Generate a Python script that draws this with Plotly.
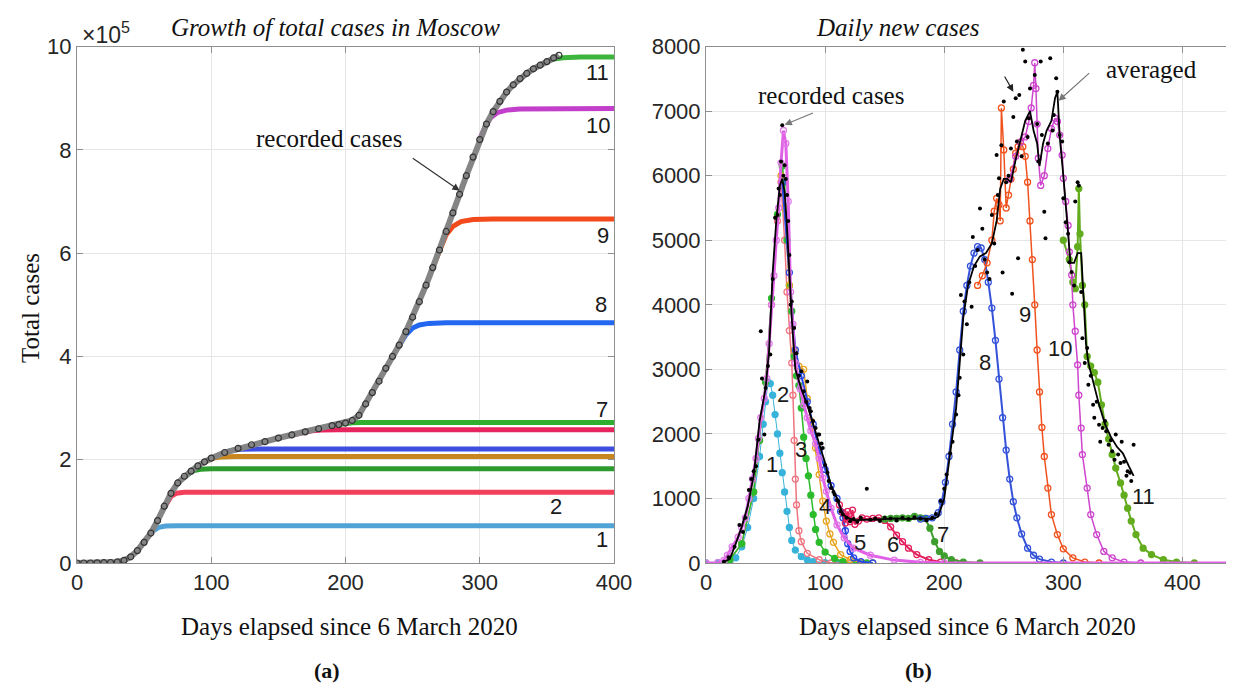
import plotly.graph_objects as go

# ---------------- data ----------------
# (a) cumulative cases, in units of 1e5
rec_day = [0, 5, 10, 15, 20, 25, 30, 35, 40, 45, 50, 55, 60, 65, 70, 75, 80, 85, 90, 95,
           100, 110, 120, 130, 140, 150, 160, 170, 180, 190, 195, 200, 205, 210, 215, 220,
           225, 230, 235, 240, 245, 250, 255, 260, 265, 270, 275, 280, 285, 290, 295, 300,
           305, 310, 315, 320, 325, 330, 335, 340, 345, 350, 355, 359]
rec_total = [0, 0, 0, 0.003, 0.006, 0.01, 0.02, 0.05, 0.12, 0.24, 0.4, 0.58, 0.82, 1.1, 1.35,
             1.55, 1.68, 1.78, 1.88, 1.96, 2.03, 2.14, 2.22, 2.29, 2.35, 2.42, 2.48, 2.54,
             2.6, 2.66, 2.68, 2.71, 2.76, 2.86, 3.08, 3.3, 3.52, 3.77, 4.0, 4.22, 4.48, 4.76,
             5.06, 5.38, 5.72, 6.06, 6.42, 6.78, 7.14, 7.5, 7.86, 8.2, 8.5, 8.74, 8.94, 9.12,
             9.26, 9.38, 9.48, 9.57, 9.64, 9.71, 9.78, 9.83]

tot1_day = [48, 53, 57, 61, 66, 75, 400]
tot1_val = [0.36, 0.51, 0.63, 0.69, 0.715, 0.72, 0.72]
tot2_day = [62, 66, 70, 74, 80, 90, 400]
tot2_val = [0.94, 1.13, 1.29, 1.35, 1.368, 1.372, 1.372]
tot3_day = [78, 83, 87, 92, 100, 400]
tot3_val = [1.64, 1.74, 1.79, 1.815, 1.825, 1.825]
tot4_day = [92, 97, 102, 108, 118, 400]
tot4_val = [1.92, 1.99, 2.035, 2.055, 2.06, 2.06]
tot5_day = [105, 110, 115, 122, 135, 400]
tot5_val = [2.09, 2.14, 2.18, 2.205, 2.21, 2.21]
tot6_day = [160, 165, 170, 175, 182, 195, 400]
tot6_val = [2.48, 2.51, 2.54, 2.56, 2.575, 2.58, 2.58]
tot7_day = [195, 200, 205, 212, 400]
tot7_val = [2.68, 2.705, 2.715, 2.72, 2.72]
tot8_day = [235, 240, 245, 250, 255, 262, 275, 400]
tot8_val = [4.0, 4.22, 4.42, 4.55, 4.61, 4.64, 4.65, 4.65]
tot9_day = [265, 270, 275, 280, 286, 295, 310, 400]
tot9_val = [5.72, 6.06, 6.36, 6.52, 6.61, 6.65, 6.66, 6.66]
tot10_day = [300, 304, 308, 313, 320, 330, 400]
tot10_val = [8.2, 8.45, 8.62, 8.72, 8.77, 8.79, 8.8]
tot11_day = [345, 350, 355, 362, 375, 400]
tot11_val = [9.64, 9.71, 9.76, 9.785, 9.8, 9.8]

# (b) daily new cases
raw_day = [15, 19, 24, 28, 31, 33, 36, 38, 40, 42, 44, 46, 47, 49, 50, 52, 54, 56, 58, 60,
           61, 62, 63, 64, 65, 66, 67, 68, 69, 70, 71, 72, 74, 76, 78, 80, 82, 84, 85, 87,
           88, 90, 92, 94, 95, 97, 98, 100, 102, 103, 105, 107, 108, 110, 111, 113, 115, 118,
           121, 124, 127, 130, 135, 138, 142, 146, 150, 155, 160, 165, 170, 175, 180, 185,
           190, 193, 197, 200, 202, 205, 207, 210, 212, 213, 214, 216, 217, 219, 221, 223,
           224, 226, 228, 230, 232, 234, 236, 238, 240, 242, 244, 245, 246, 248, 249, 250,
           252, 254, 256, 257, 258, 260, 261, 262, 263, 265, 266, 268, 270, 271, 272, 274,
           276, 278, 279, 281, 282, 284, 285, 287, 289, 291, 292, 294, 295, 297, 299, 300,
           302, 304, 305, 307, 309, 310, 312, 313, 315, 316, 318, 320, 321, 323, 325, 326,
           328, 330, 331, 333, 335, 336, 338, 340, 341, 343, 344, 346, 348, 349, 351, 353,
           354, 356, 357, 359]
raw_new = [20, 90, 250, 590, 480, 700, 1130, 1300, 1420, 1500, 1910, 3590, 2860, 1990, 2710,
           3050, 3230, 4400, 5350, 5390, 5800, 5700, 6220, 6780, 6000, 6160, 5950, 5700, 5300,
           4770, 4000, 4050, 3640, 3250, 2900, 2970, 2660, 2500, 2810, 2400, 2350, 2200, 2090,
           1990, 1990, 1850, 1780, 1520, 1400, 1270, 1160, 1100, 1060, 980, 955, 800, 750, 700,
           645, 680, 640, 700, 1150, 670, 690, 650, 700, 690, 660, 700, 680, 710, 690, 660,
           700, 760, 960, 1150, 1370, 1700, 1880, 2300, 2600, 2870, 4150, 3230, 4050, 3700,
           4350, 3970, 5050, 4600, 4850, 5490, 5180, 4700, 4500, 4400, 5390, 4950, 6320, 5700,
           5960, 6470, 4500, 7150, 5900, 6000, 6420, 4170, 6910, 7200, 6530, 4720, 7250, 6300,
           7950, 7770, 6600, 6890, 7350, 8030, 7560, 6800, 6220, 7770, 6630, 5440, 5030, 6500,
           7820, 6700, 6940, 7510, 7300, 6630, 6530, 5650, 5280, 5100, 4660, 4510, 4300, 5600,
           5900, 5850, 4200, 3480, 3100, 3330, 2760, 2900, 2450, 2250, 2500, 2140, 1880, 2090,
           2200, 2040, 1830, 1900, 1730, 1600, 1990, 1680, 1550, 1880, 1570, 1350, 1420, 1400,
           1270, 1830]

avg_day = [15, 20, 25, 30, 35, 40, 45, 50, 53, 56, 59, 62, 64, 66, 68, 70, 72, 75, 78, 80,
           85, 90, 95, 100, 105, 110, 115, 120, 125, 130, 140, 150, 160, 170, 180, 190, 195,
           200, 205, 210, 213, 216, 220, 225, 230, 235, 240, 244, 247, 250, 253, 256, 260,
           264, 268, 272, 275, 278, 280, 283, 286, 290, 293, 295, 297, 300, 303, 306, 309,
           312, 315, 317, 319, 321, 325, 330, 335, 340, 345, 350, 355, 359]
avg_new = [20, 60, 300, 560, 880, 1350, 2200, 2700, 3300, 4500, 5300, 5850, 5950, 5750, 5200,
           4400, 3800, 3000, 2800, 2700, 2450, 2150, 1850, 1550, 1200, 1000, 750, 690, 660,
           670, 670, 680, 690, 680, 690, 680, 720, 1000, 1700, 2400, 3100, 3800, 4300, 4600,
           4750, 4800, 4950, 5300, 5800, 5950, 5950, 5900, 6250, 6550, 6850, 7000, 6700, 6500,
           6150, 6500, 6700, 6850, 7200, 7300, 6600, 6000, 5300, 4650, 4650, 4800, 4800, 4100,
           3400, 3100, 2800, 2450, 2150, 1950, 1800, 1700, 1500, 1350]

new1_day = [0, 10, 20, 25, 30, 35, 40, 45, 48, 50, 52, 54, 56, 58, 60, 62, 64, 66, 68, 70,
            72, 75, 80, 85, 90, 100, 110, 130]
new1_val = [0, 5, 20, 80, 250, 550, 1000, 1650, 2150, 2500, 2800, 2780, 2600, 2300, 2000,
            1700, 1400, 1100, 800, 550, 350, 200, 100, 50, 20, 5, 0, 0]
new2_day = [20, 30, 40, 45, 50, 55, 60, 63, 66, 68, 70, 72, 73, 74, 75, 76, 78, 80, 85, 95,
            105, 120]
new2_val = [50, 300, 1100, 1900, 2800, 4000, 5300, 5900, 5000, 4200, 3600, 3100, 2600, 1900,
            1300, 900, 500, 330, 150, 50, 0, 0]
new3_day = [20, 30, 40, 45, 50, 55, 60, 64, 66, 68, 70, 72, 74, 76, 78, 80, 82, 84, 86, 88,
            90, 92, 95, 100, 108, 115, 125, 135]
new3_val = [50, 300, 1100, 1900, 2800, 4100, 5400, 6150, 5900, 5000, 4300, 3900, 3200, 2900,
            2750, 2400, 1950, 1620, 1350, 1050, 750, 520, 320, 170, 70, 20, 0, 0]
new4_day = [63, 66, 70, 74, 78, 82, 85, 88, 92, 95, 98, 101, 104, 107, 113, 121, 130, 140]
new4_val = [6000, 5500, 4300, 3300, 3050, 3000, 2550, 2200, 1780, 1370, 960, 650, 450, 320,
            130, 50, 10, 0]
new5_day = [64, 70, 75, 80, 85, 90, 95, 100, 105, 110, 113, 115, 117, 119, 121, 124, 130, 140]
new5_val = [5900, 4500, 3300, 2900, 2500, 2150, 1750, 1450, 1200, 1000, 800, 700, 500, 300,
            180, 80, 20, 0]
new6_day = [112, 115, 117, 119, 121, 123, 125, 128, 131, 135, 140, 145, 150, 155, 160, 165,
            170, 177, 187, 197, 210]
new6_val = [900, 780, 620, 800, 640, 820, 600, 650, 700, 680, 690, 700, 660, 560, 430, 330,
            230, 130, 50, 15, 0]
new7_day = [150, 155, 160, 165, 170, 175, 180, 184, 188, 192, 196, 200, 206, 216, 230]
new7_val = [680, 690, 690, 700, 690, 720, 700, 690, 540, 330, 180, 110, 50, 15, 0]
new8_day = [180, 185, 190, 195, 198, 201, 204, 207, 210, 213, 216, 219, 222, 225, 228, 231,
            234, 237, 240, 243, 246, 249, 252, 255, 258, 261, 265, 270, 275, 280, 290, 300]
new8_val = [680, 690, 700, 780, 950, 1250, 1650, 2150, 2650, 3300, 3900, 4300, 4600, 4800,
            4900, 4880, 4700, 4350, 3950, 3450, 2850, 2250, 1750, 1300, 950, 700, 450, 230,
            120, 60, 15, 0]
new9_day = [228, 232, 236, 240, 242, 244, 246, 247, 248, 250, 252, 254, 256, 258, 260, 262,
            264, 266, 268, 270, 272, 274, 276, 278, 280, 282, 284, 287, 290, 295, 300, 308,
            318, 330]
new9_val = [4300, 4450, 4650, 5000, 5450, 5650, 5550, 5300, 7050, 6400, 5500, 5700, 5950,
            6100, 6350, 6450, 6520, 6450, 6300, 5900, 5300, 4700, 4000, 3300, 2650, 2100,
            1650, 1160, 750, 440, 220, 80, 15, 0]
new10_day = [255, 260, 264, 268, 271, 273, 275, 276, 277, 278, 279, 281, 284, 287, 290, 293,
             295, 297, 299, 300, 302, 304, 305, 307, 308, 310, 312, 313, 315, 316, 320, 323,
             328, 334, 341, 351, 365]
new10_val = [5950, 6300, 6520, 6600, 6840, 7050, 7400, 7750, 7350, 6800, 6270, 5850, 6000,
             6420, 6730, 6890, 6840, 6630, 6320, 5960, 5600, 5230, 4820, 4460, 4000, 3590,
             3070, 2600, 2090, 1680, 1160, 750, 440, 180, 80, 15, 0]
new11_day = [300, 305, 308, 310, 312, 313, 314, 316, 318, 320, 323, 326, 329, 332, 335, 338,
             341, 344, 348, 351, 354, 357, 361, 367, 374, 384, 395, 410]
new11_val = [5000, 4700, 4350, 4250, 4900, 5800, 5100, 4300, 4000, 3200, 3050, 2950, 2800,
             2450, 2150, 1920, 1680, 1470, 1240, 1050, 850, 650, 440, 230, 130, 50, 15, 0]
newv_day = [0, 10, 15, 18, 22, 27, 30, 33, 36, 39, 42, 44, 46, 49, 51, 53, 55, 57, 59, 61, 63,
            65, 67, 69, 71, 73, 75, 79, 82, 85, 88, 92, 95, 98, 101, 105, 110, 116, 124, 138,
            158, 180, 200, 450]
newv_val = [0, 5, 40, 120, 250, 400, 550, 700, 1000, 1300, 1620, 1930, 2250, 2550, 2860, 3400,
            4000, 4450, 5000, 5500, 6200, 6700, 6500, 5600, 4200, 3700, 3100, 2700, 2450, 2250,
            2050, 1850, 1620, 1320, 1110, 850, 590, 390, 230, 120, 45, 10, 0, 0]

# ---------------- figure ----------------
W, H = 1234, 685
SANS = "Liberation Sans"
SERIF = "Liberation Serif"
INK = "#262626"
AX = "#8f8f8f"


def px(x):
    return x / W


def py(y):
    return 1 - y / H


fig = go.Figure()

left_curves = [
    (tot1_day, tot1_val, "#4fa3d6"), (tot2_day, tot2_val, "#f2405a"),
    (tot3_day, tot3_val, "#2e9b2e"), (tot4_day, tot4_val, "#c8861e"),
    (tot5_day, tot5_val, "#3d4ee0"), (tot6_day, tot6_val, "#e6245e"),
    (tot7_day, tot7_val, "#2fae2f"), (tot8_day, tot8_val, "#2367f0"),
    (tot9_day, tot9_val, "#f24a1c"), (tot10_day, tot10_val, "#c23fcb"),
    (tot11_day, tot11_val, "#3db53d"),
]
for d, v, c in left_curves:
    fig.add_trace(go.Scatter(x=d, y=v, mode="lines", line=dict(color=c, width=5),
                             xaxis="x", yaxis="y", hoverinfo="skip"))

fig.add_trace(go.Scatter(
    x=rec_day, y=rec_total, mode="lines+markers",
    line=dict(color="#858585", width=6),
    marker=dict(symbol="circle-open", size=6, color="#333333", line=dict(width=1.2)),
    xaxis="x", yaxis="y"))

# right panel model curves: (days, values, colour, marker symbol, line width)
right_curves = [
    (new1_day, new1_val, "#37b3da", "circle", 1),
    (new2_day, new2_val, "#ee7480", "circle-open", 1.5),
    (new3_day, new3_val, "#2cbb2c", "circle", 1.5),
    (new4_day, new4_val, "#e8a41e", "circle-open", 1.5),
    (new5_day, new5_val, "#2748e6", "circle-open", 2),
    (new6_day, new6_val, "#e3215e", "circle-open", 2),
    (new7_day, new7_val, "#3e9e2e", "circle", 2),
    (new8_day, new8_val, "#3553d9", "circle-open", 2),
    (new9_day, new9_val, "#f0521e", "circle-open", 1.5),
    (new11_day, new11_val, "#62ac1e", "circle", 2),
    (new10_day, new10_val, "#ce45ce", "circle-open", 1.5),
]
for d, v, c, sym, lw in right_curves:
    fig.add_trace(go.Scatter(
        x=d, y=v, mode="lines+markers", line=dict(color=c, width=lw),
        marker=dict(symbol=sym, size=6, color=c, line=dict(width=1.3, color=c)),
        xaxis="x2", yaxis="y2", hoverinfo="skip"))

fig.add_trace(go.Scatter(
    x=newv_day, y=newv_val, mode="lines+markers", line=dict(color="#e060e6", width=3),
    marker=dict(symbol="circle-open", size=6, color="#e07be8", line=dict(width=1.3)),
    xaxis="x2", yaxis="y2", hoverinfo="skip"))

fig.add_trace(go.Scatter(
    x=avg_day, y=avg_new, mode="lines", line=dict(color="black", width=1.8),
    xaxis="x2", yaxis="y2"))
fig.add_trace(go.Scatter(
    x=raw_day, y=raw_new, mode="markers", marker=dict(color="black", size=4),
    xaxis="x2", yaxis="y2"))

# ---------------- annotations ----------------
ann = []


def label(x, y, t, xr="x", yr="y", size=22):
    ann.append(dict(x=x, y=y, xref=xr, yref=yr, text=t, showarrow=False,
                    xanchor="center", yanchor="middle",
                    font=dict(family=SANS, size=size, color="#1a1a1a")))


for x, y, t in [(388, 9.5, "11"), (388, 8.47, "10"), (392, 6.35, "9"), (390, 5.0, "8"),
                (391, 2.98, "7"), (357, 1.1, "2"), (391, 0.45, "1")]:
    label(x, y, t)
for x, y, t in [(55, 1523, "1"), (65, 2617, "2"), (80, 1755, "3"), (100, 877, "4"),
                (129, 310, "5"), (157, 294, "6"), (199, 439, "7"), (234, 3112, "8"),
                (268, 3845, "9"), (297, 3319, "10"), (367, 1032, "11")]:
    label(x, y, t, "x2", "y2")


def serif(x, y, t, xr="paper", yr="paper", size=25, angle=0):
    ann.append(dict(x=x, y=y, xref=xr, yref=yr, text=t, showarrow=False, textangle=angle,
                    xanchor="center", yanchor="middle",
                    font=dict(family=SERIF, size=size, color="#111111")))


serif(px(327), py(20), "<i>Growth of total cases in Moscow</i>")
serif(px(890), py(19), "<i>Daily new cases</i>")
serif(px(341), py(618), "Days elapsed since 6 March 2020")
serif(px(959), py(618), "Days elapsed since 6 March 2020")
serif(px(22), py(300), "Total cases", angle=-90)
serif(px(319), py(662), "<b>(a)</b>", size=22)
serif(px(910), py(662), "<b>(b)</b>", size=22)
serif(188, 8.23, "recorded cases", "x", "y")
serif(105, 7240, "recorded cases", "x2", "y2")
serif(374, 7650, "averaged", "x2", "y2")

ann.append(dict(x=px(72), y=py(25), xref="paper", yref="paper", xanchor="left",
                yanchor="middle", text="×10<sup>5</sup>", showarrow=False,
                font=dict(family=SANS, size=23, color=INK)))

# arrows
for x, y, ax_, ay_, xr, yr, col in [
        (285, 7.21, 249, 7.86, "x", "y", "#333333"),
        (66, 6790, 91, 6980, "x2", "y2", "#777777"),
        (296, 7160, 323, 7610, "x2", "y2", "#777777"),
        (258, 7300, 250, 7560, "x2", "y2", "#222222")]:
    ann.append(dict(x=x, y=y, ax=ax_, ay=ay_, xref=xr, yref=yr, axref=xr, ayref=yr,
                    text="", showarrow=True, arrowhead=2, arrowsize=1.2,
                    arrowwidth=1.2, arrowcolor=col))

axis_common = dict(showline=True, linecolor=AX, linewidth=1, mirror="ticks",
                   ticks="inside", ticklen=6, tickcolor=AX, showgrid=True,
                   gridcolor="#e6e6e6", gridwidth=1, zeroline=False,
                   tickfont=dict(family=SANS, size=22, color=INK), automargin=False)

ydom = [py(555), py(38.6)]
fig.update_layout(
    template="none",
    width=W, height=H,
    margin=dict(l=0, r=0, t=0, b=0),
    paper_bgcolor="white", plot_bgcolor="white",
    showlegend=False,
    xaxis=dict(domain=[px(69), px(606)], range=[0, 400], tickvals=[0, 100, 200, 300, 400],
               anchor="y", **axis_common),
    yaxis=dict(domain=ydom, range=[0, 10], tickvals=[0, 2, 4, 6, 8, 10], anchor="x",
               **axis_common),
    xaxis2=dict(domain=[px(698), 1.0], range=[0, 450], tickvals=[0, 100, 200, 300, 400],
                anchor="y2", **axis_common),
    yaxis2=dict(domain=ydom, range=[0, 8000], tickvals=list(range(0, 8001, 1000)),
                tickformat="d", anchor="x2", **axis_common),
    annotations=ann,
)

fig.write_html("out.html")
